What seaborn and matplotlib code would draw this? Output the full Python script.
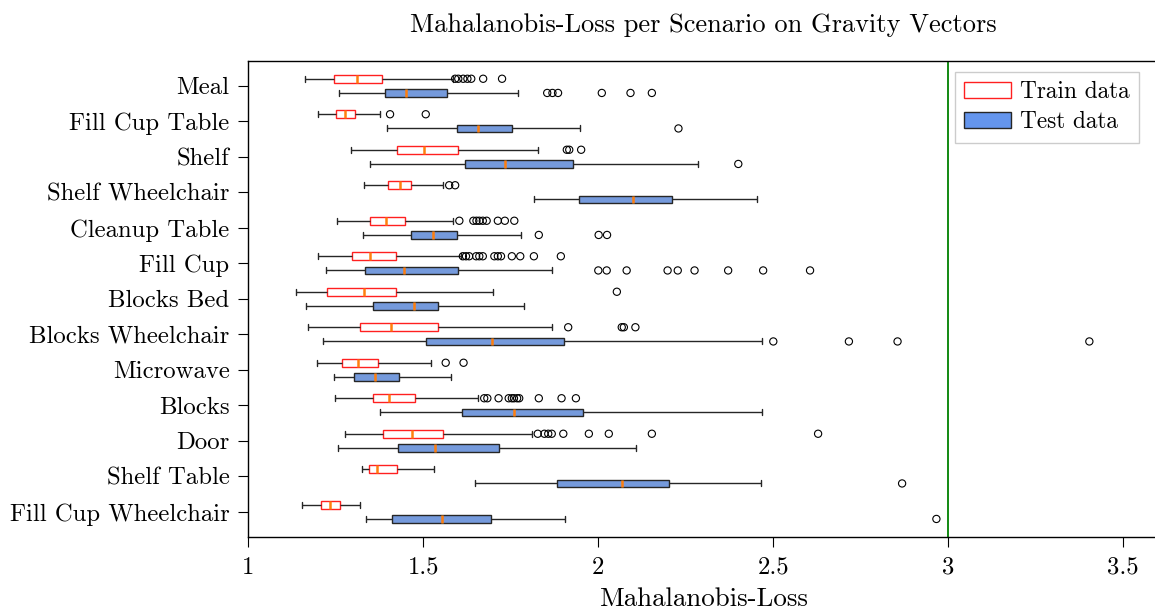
import numpy as np
import pandas as pd
import matplotlib
matplotlib.use("Agg")
import matplotlib.pyplot as plt
from matplotlib.patches import Patch
from matplotlib.ticker import StrMethodFormatter
import seaborn as sns

# ---------------- data ----------------
scenarios = ["Meal", "Fill Cup Table", "Shelf", "Shelf Wheelchair", "Cleanup Table",
             "Fill Cup", "Blocks Bed", "Blocks Wheelchair", "Microwave", "Blocks",
             "Door", "Shelf Table", "Fill Cup Wheelchair"]
sets = ["Train data", "Test data"]

# five-number summaries (lower whisker, Q1, median, Q3, upper whisker)
train_whislo = [1.163, 1.199, 1.293, 1.330, 1.253, 1.198, 1.135, 1.170, 1.195, 1.248, 1.275, 1.326, 1.152]
train_q1     = [1.246, 1.251, 1.426, 1.400, 1.348, 1.296, 1.225, 1.319, 1.269, 1.357, 1.384, 1.344, 1.209]
train_med    = [1.310, 1.275, 1.501, 1.434, 1.393, 1.349, 1.331, 1.408, 1.313, 1.401, 1.467, 1.368, 1.233]
train_q3     = [1.383, 1.306, 1.600, 1.466, 1.447, 1.421, 1.422, 1.542, 1.371, 1.476, 1.557, 1.425, 1.261]
train_whishi = [1.586, 1.377, 1.828, 1.557, 1.586, 1.608, 1.698, 1.867, 1.522, 1.655, 1.811, 1.530, 1.318]

test_whislo = [1.259, 1.395, 1.349, 1.816, 1.327, 1.221, 1.165, 1.214, 1.244, 1.375, 1.256, 1.649, 1.336]
test_q1     = [1.391, 1.597, 1.618, 1.945, 1.464, 1.333, 1.357, 1.508, 1.302, 1.610, 1.427, 1.883, 1.411]
test_med    = [1.451, 1.657, 1.732, 2.100, 1.529, 1.446, 1.473, 1.697, 1.361, 1.759, 1.532, 2.069, 1.553]
test_q3     = [1.569, 1.753, 1.927, 2.211, 1.597, 1.600, 1.542, 1.902, 1.432, 1.957, 1.717, 2.203, 1.692]
test_whishi = [1.770, 1.948, 2.286, 2.453, 1.778, 1.867, 1.787, 2.469, 1.580, 2.469, 2.107, 2.466, 1.904]

train_fliers = [
    [1.591, 1.600, 1.614, 1.626, 1.637, 1.671, 1.725],
    [1.405, 1.507],
    [1.910, 1.917, 1.951],
    [1.574, 1.591],
    [1.603, 1.643, 1.652, 1.660, 1.670, 1.681, 1.713, 1.733, 1.760],
    [1.613, 1.622, 1.631, 1.651, 1.660, 1.670, 1.703, 1.713, 1.722, 1.753, 1.777, 1.816, 1.893],
    [2.053],
    [1.914, 2.067, 2.073, 2.106],
    [1.564, 1.615],
    [1.674, 1.683, 1.715, 1.744, 1.753, 1.759, 1.768, 1.774, 1.830, 1.895, 1.936],
    [1.827, 1.846, 1.857, 1.867, 1.900, 1.973, 2.030, 2.153, 2.628],
    [],
    [],
]
test_fliers = [
    [1.854, 1.869, 1.885, 2.010, 2.092, 2.153],
    [2.229],
    [2.400],
    [],
    [1.830, 2.001, 2.025],
    [2.000, 2.024, 2.081, 2.198, 2.227, 2.275, 2.371, 2.471, 2.605],
    [],
    [2.500, 2.716, 2.855, 3.403],
    [],
    [],
    [],
    [2.868],
    [2.966],
]
threshold = 3.0

# ---------------- long tables for seaborn ----------------
rows = []
for s, summ in zip(sets, [(train_whislo, train_q1, train_med, train_q3, train_whishi),
                          (test_whislo, test_q1, test_med, test_q3, test_whishi)]):
    for i, sc in enumerate(scenarios):
        for arr in summ:
            rows.append({"Scenario": sc, "Set": s, "Loss": arr[i]})
box_df = pd.DataFrame(rows)

frows = []
for s, fl in zip(sets, [train_fliers, test_fliers]):
    for sc, vals in zip(scenarios, fl):
        for v in vals:
            frows.append({"Scenario": sc, "Set": s, "Loss": v})
flier_df = pd.DataFrame(frows)

# ---------------- style ----------------
sns.set_style("ticks")
plt.rcParams["font.family"] = ["cmr10", "DejaVu Serif"]
plt.rcParams["mathtext.fontset"] = "cm"
plt.rcParams["axes.formatter.use_mathtext"] = True
plt.rcParams["axes.unicode_minus"] = False
for k in ["text.color", "axes.labelcolor", "xtick.color", "ytick.color",
          "xtick.labelcolor", "ytick.labelcolor", "axes.edgecolor"]:
    plt.rcParams[k] = "black"

FS_TICK = 17.8
FS_TITLE = 19.0
FS_XLAB = 19.4
FS_LEG = 16.8
TRAIN_EDGE = "#ff2020"
TEST_FILL = "#6495ED"
LINE = "#262626"
MED = "#ff7f0e"

fig = plt.figure(figsize=(11.55, 6.13), dpi=100)
ax = fig.add_axes([248.3 / 1155, (613 - 536.7) / 613, 910 / 1155, 475.7 / 613])

common = dict(y="Scenario", x="Loss", hue="Set", order=scenarios, hue_order=sets,
              orient="h", dodge=True, width=0.8, gap=0.45, whis=(0, 100),
              showfliers=False, linewidth=1.0, legend=False, ax=ax, capwidths=0.17,
              medianprops={"color": MED, "linewidth": 1.8})

sns.boxplot(data=box_df[box_df["Set"] == "Train data"],
            palette={"Train data": "white", "Test data": "white"},
            linecolor=LINE, boxprops={"edgecolor": TRAIN_EDGE}, **common)
sns.boxplot(data=box_df[box_df["Set"] == "Test data"],
            palette={"Train data": TEST_FILL, "Test data": TEST_FILL},
            linecolor=LINE, boxprops={"edgecolor": LINE}, **common)

sns.stripplot(data=flier_df, y="Scenario", x="Loss", hue="Set", order=scenarios,
              hue_order=sets, orient="h", dodge=True, jitter=False, size=5.2,
              palette={"Train data": "white", "Test data": "white"},
              edgecolor="black", linewidth=0.8, legend=False, ax=ax, zorder=4)
for c in ax.collections:
    c.set_facecolor("none")
    c.set_edgecolor("black")

ax.axvline(threshold, color="green", linewidth=1.3, zorder=1)

ax.set_xlim(1.0, 3.6)
ax.set_ylim(len(scenarios) - 1 + 0.7, -0.7)
ax.set_xticks([1, 1.5, 2, 2.5, 3, 3.5])
ax.xaxis.set_major_formatter(StrMethodFormatter("{x:g}"))
ax.tick_params(axis="both", which="major", labelsize=FS_TICK, length=7.5, width=0.8,
               color="black", pad=6, direction="out")
ax.tick_params(axis="x", pad=7)
for sp in ax.spines.values():
    sp.set_visible(True)
    sp.set_color("black")
    sp.set_linewidth(1.0)

ax.set_ylabel("")
ax.set_xlabel("Mahalanobis-Loss", fontsize=FS_XLAB, labelpad=6)
ax.set_title("Mahalanobis-Loss per Scenario on Gravity Vectors", fontsize=FS_TITLE, pad=21)

handles = [Patch(facecolor="white", edgecolor=TRAIN_EDGE, label="Train data"),
           Patch(facecolor=TEST_FILL, edgecolor=LINE, label="Test data")]
ax.legend(handles=handles, loc="upper right", bbox_to_anchor=(0.9788, 0.9775),
          borderaxespad=0, fontsize=FS_LEG, fancybox=False, edgecolor="0.8",
          framealpha=1.0, handletextpad=0.4, labelspacing=0.35)

fig.savefig("out.png", dpi=100)
